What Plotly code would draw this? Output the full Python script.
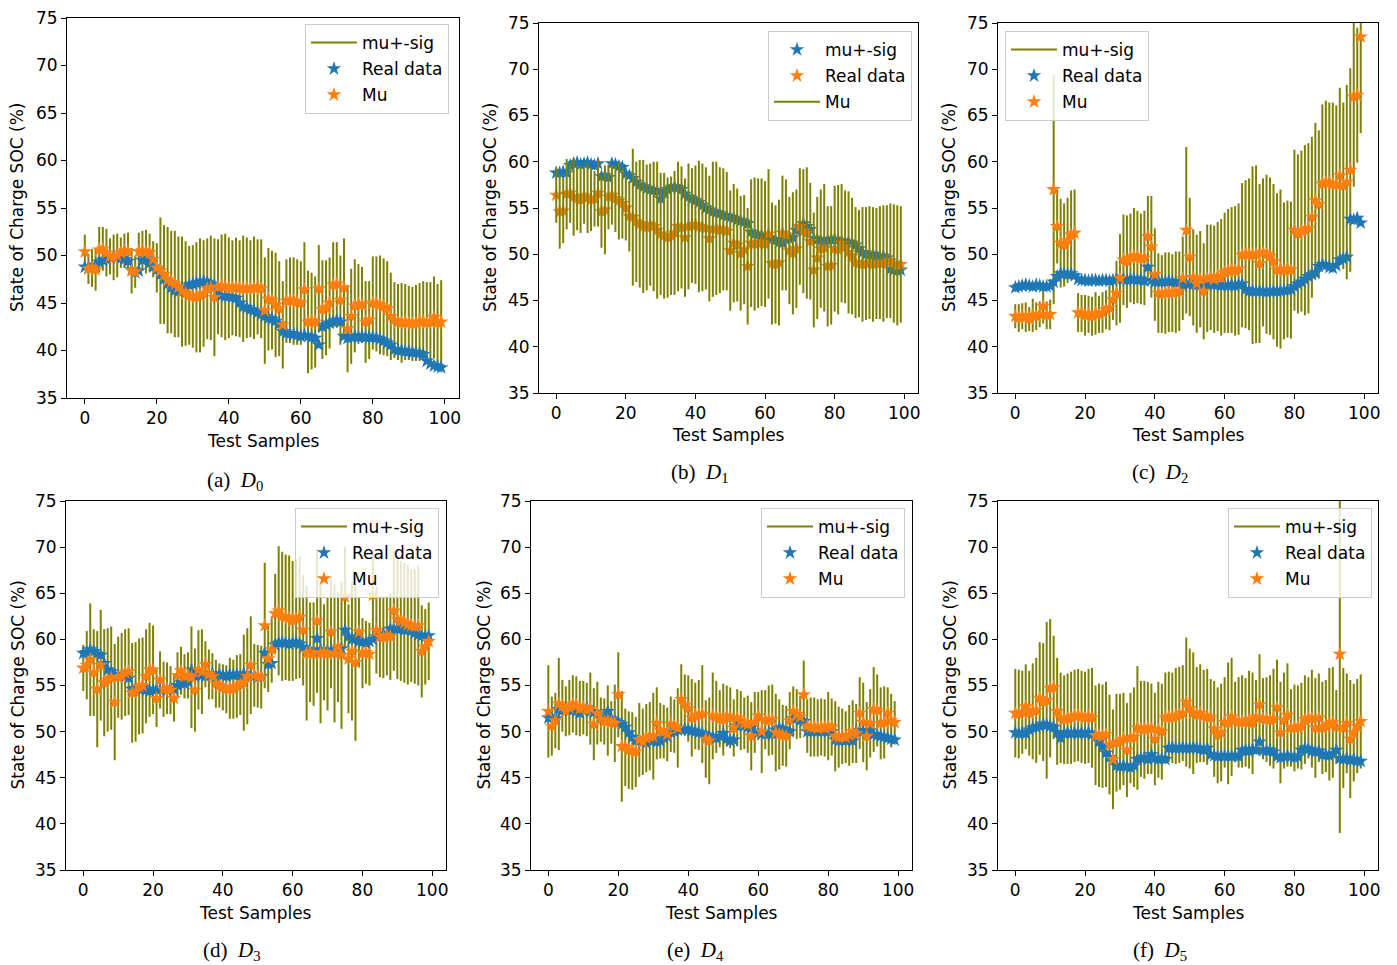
import plotly.graph_objects as go

W, H = 1397, 965

# ---------------- data ----------------
a_real = [48.8, 48.7, 48.8, 49.0, 49.3, 49.5, 49.6, 49.8, 49.9, 49.8,
          49.7, 49.6, 49.4, 48.5, 48.2, 48.4, 49.5, 49.7, 49.2, 48.8,
          48.5, 48.0, 47.5, 47.0, 46.6, 46.3, 46.2, 46.5, 46.7, 46.9,
          47.0, 47.1, 47.2, 47.3, 47.2, 47.0, 46.8, 46.2, 45.8, 45.7,
          45.7, 45.6, 45.5, 45.0, 44.6, 44.5, 44.3, 44.2, 44.0, 43.8,
          43.6, 43.4, 43.3, 43.1, 42.8, 42.0, 41.8, 41.8, 41.7, 41.6,
          41.5, 41.6, 41.5, 41.4, 41.3, 40.6, 42.5, 42.7, 42.9, 43.0,
          43.2, 43.0, 41.5, 41.3, 41.4, 41.5, 41.4, 41.5, 41.4, 41.4,
          41.4, 41.3, 41.2, 41.0, 40.8, 40.6, 40.1, 40.0, 40.0, 39.9,
          39.9, 39.8, 39.8, 39.7, 39.6, 38.9, 38.6, 38.4, 38.3, 38.2]
a_mu = [50.4, 48.6, 48.7, 48.5, 50.6, 50.7, 50.3, 49.9, 49.8, 50.0,
        50.3, 50.5, 50.4, 48.4, 48.3, 50.4, 50.5, 50.4, 50.3, 49.6,
        48.7, 48.4, 48.0, 47.4, 47.2, 47.0, 46.7, 46.2, 46.0, 45.8,
        45.7, 45.6, 45.8, 46.0, 46.5, 46.6, 45.6, 46.7, 46.8, 46.7,
        46.6, 46.6, 46.7, 46.5, 46.5, 46.6, 46.5, 46.6, 46.7, 46.5,
        44.2, 45.4, 45.3, 44.8, 44.4, 42.7, 45.2, 45.3, 45.2, 45.1,
        45.0, 46.4, 43.0, 43.1, 43.0, 46.5, 44.3, 44.5, 45.0, 46.9,
        47.0, 45.3, 46.6, 42.3, 43.6, 44.7, 44.9, 44.8, 43.0, 43.2,
        45.0, 44.9, 44.8, 44.6, 44.4, 43.6, 43.2, 43.0, 42.9, 43.0,
        42.9, 42.8, 42.9, 43.0, 43.1, 42.9, 43.0, 43.5, 42.9, 43.0]
a_sig = [1.8, 1.6, 2.0, 2.2, 2.4, 2.3, 2.5, 1.9, 2.4, 2.3,
         1.6, 1.8, 2.0, 2.4, 1.7, 2.0, 2.1, 2.3, 2.0, 1.9,
         2.6, 5.6, 5.2, 5.6, 5.4, 5.6, 5.3, 5.8, 5.5, 5.2,
         5.4, 5.8, 6.0, 5.6, 5.3, 5.5, 6.2, 5.0, 5.4, 5.6,
         5.3, 5.0, 5.2, 5.1, 5.6, 5.3, 5.1, 5.4, 5.0, 5.2,
         5.6, 5.4, 5.2, 5.5, 5.0, 4.6, 4.4, 4.5, 4.6, 4.5,
         4.4, 5.0, 5.4, 5.1, 4.8, 4.6, 5.2, 5.0, 4.8, 4.5,
         4.4, 4.7, 5.2, 4.6, 5.0, 4.9, 4.2, 4.0, 4.3, 4.1,
         4.9, 5.0, 5.2, 5.1, 5.0, 4.6, 4.0, 4.0, 4.2, 4.0,
         3.9, 3.9, 4.0, 4.1, 4.2, 4.3, 4.2, 4.3, 4.1, 4.4]

b_real = [58.8, 58.8, 58.9, 58.8, 59.6, 59.8, 59.9, 59.7, 59.8, 59.9,
          59.7, 59.6, 59.8, 58.4, 58.5, 58.3, 59.8, 59.7, 59.5, 59.4,
          58.7, 58.5, 58.2, 57.8, 57.5, 57.3, 57.1, 57.0, 56.9, 56.8,
          56.0, 56.7, 57.0, 57.2, 57.3, 57.2, 57.0, 56.5, 56.2, 56.0,
          55.8, 55.6, 55.3, 55.0, 54.8, 54.6, 54.5, 54.4, 54.2, 54.1,
          54.0, 53.9, 53.7, 53.6, 53.5, 53.3, 52.4, 52.2, 52.1, 52.0,
          51.9, 51.8, 51.6, 51.5, 51.3, 51.2, 51.6, 51.7, 51.8, 52.6,
          52.9, 53.3, 53.0, 52.7, 51.7, 51.6, 51.5, 51.4, 51.5, 51.6,
          51.6, 51.5, 51.4, 51.3, 51.3, 51.2, 51.0, 50.6, 50.2, 50.0,
          49.9, 50.0, 49.8, 49.7, 49.8, 49.6, 48.4, 48.3, 48.2, 48.3]
b_mu = [56.4, 54.6, 54.7, 56.5, 56.6, 56.2, 56.0, 55.9, 56.3, 56.1,
        55.9, 56.0, 56.6, 54.6, 54.8, 56.2, 56.4, 56.0, 55.8, 55.5,
        55.0, 54.1, 54.0, 53.5, 53.3, 53.0, 52.9, 53.2, 53.0, 52.6,
        52.2, 52.0, 51.8, 52.0, 52.3, 53.0, 52.9, 51.8, 53.0, 53.1,
        53.2, 53.0, 52.9, 52.8, 51.7, 52.7, 52.8, 52.6, 52.7, 52.5,
        50.4, 51.2, 51.0, 50.1, 50.5, 48.7, 51.2, 51.1, 51.2, 51.3,
        51.1, 52.2, 49.0, 48.9, 49.1, 52.3, 52.1, 50.4, 50.1, 50.6,
        53.0, 52.5, 52.3, 51.4, 48.3, 49.6, 50.6, 50.7, 48.7, 48.8,
        50.6, 50.5, 51.2, 50.8, 50.2, 49.8, 49.1, 49.0, 48.9, 49.0,
        49.1, 48.9, 49.0, 49.1, 49.0, 49.2, 49.3, 49.0, 48.8, 48.9]
b_sig = [3.0, 4.0, 3.5, 3.8, 3.2, 4.2, 3.4, 3.6, 3.0, 3.8,
         3.4, 3.0, 3.6, 3.9, 4.8, 3.5, 3.2, 3.6, 4.2, 3.8,
         3.5, 3.8, 7.4, 6.5, 6.9, 7.2, 6.8, 6.6, 7.0, 7.4,
         6.6, 6.8, 6.5, 6.4, 6.7, 7.0, 6.6, 6.4, 6.8, 6.2,
         6.4, 7.1, 6.9, 6.6, 6.8, 7.3, 7.2, 6.8, 6.6, 6.4,
         6.5, 6.4, 6.1, 6.2, 5.9, 6.3, 6.9, 7.2, 7.0, 6.9,
         6.8, 7.0, 6.6, 6.4, 6.8, 6.2, 6.0, 5.8, 6.6, 6.4,
         6.3, 6.7, 7.1, 6.3, 6.2, 6.6, 6.4, 6.9, 6.5, 6.4,
         6.8, 7.0, 6.4, 6.1, 6.6, 6.3, 6.0, 5.8, 6.2, 6.1,
         6.1, 6.2, 6.0, 6.1, 6.3, 6.1, 6.2, 6.4, 6.5, 6.3]

c_real = [46.4, 46.5, 46.6, 46.7, 46.6, 46.5, 46.7, 46.6, 46.5, 46.5,
          46.6, 47.0, 47.6, 47.9, 47.9, 47.8, 47.9, 47.7, 47.3, 47.2,
          47.2, 47.1, 47.2, 47.2, 47.1, 47.2, 47.2, 47.1, 47.2, 47.3,
          47.4, 47.3, 47.2, 47.3, 47.3, 47.2, 47.3, 47.1, 48.6, 47.2,
          47.0, 47.1, 47.0, 47.0, 47.1, 47.0, 46.9, 47.0, 46.6, 46.8,
          46.8, 46.7, 46.7, 46.8, 46.7, 46.7, 46.8, 46.7, 46.7, 46.6,
          46.7, 46.6, 46.7, 46.6, 46.7, 46.8, 46.2, 46.0, 46.0, 46.0,
          46.0, 46.0, 45.9, 46.0, 46.0, 46.0, 46.0, 46.1, 46.1, 46.2,
          46.5, 46.8, 47.0, 47.3, 47.6, 47.8, 48.0, 48.7, 48.9, 48.8,
          48.6, 48.5, 48.8, 49.4, 49.5, 49.7, 53.8, 53.7, 53.9, 53.4]
c_mu = [43.3, 43.1, 43.3, 43.2, 43.0, 43.4, 43.3, 43.5, 44.4, 43.4,
        43.5, 57.0, 53.0, 51.2, 51.0, 51.5, 52.1, 52.3, 43.7, 43.6,
        43.4, 43.5, 43.3, 43.6, 43.5, 43.7, 44.0, 44.2, 45.1, 45.8,
        47.4, 49.4, 49.2, 49.6, 49.8, 49.7, 49.5, 49.6, 51.9, 50.8,
        47.8, 45.8, 45.7, 45.8, 45.9, 45.8, 45.9, 46.0, 47.4, 52.6,
        49.7, 47.5, 46.8, 47.3, 46.0, 47.4, 47.5, 47.3, 47.6, 47.5,
        48.0, 48.2, 48.3, 48.2, 48.4, 49.9, 50.0, 50.0, 49.9, 50.0,
        49.0, 50.2, 50.0, 49.8, 49.2, 48.3, 48.4, 48.2, 48.4, 48.3,
        52.6, 52.2, 52.5, 52.6, 52.8, 54.0, 55.8, 55.4, 57.6, 57.8,
        57.7, 57.6, 57.5, 58.5, 57.4, 57.8, 59.1, 67.0, 67.2, 73.5]
c_sig = [1.3, 1.5, 1.4, 1.6, 1.3, 1.8, 1.5, 1.4, 1.9, 1.5,
         1.6, 12.4, 4.0, 4.8, 4.5, 4.6, 4.8, 4.7, 2.1, 2.0,
         2.2, 2.0, 2.1, 2.3, 2.0, 2.2, 2.1, 2.4, 2.2, 3.5,
         4.8, 4.9, 5.0, 4.8, 5.2, 5.0, 4.9, 5.1, 4.4, 5.5,
         5.0, 4.3, 4.2, 4.4, 4.3, 4.2, 4.4, 4.3, 4.5, 9.0,
         6.4, 5.2, 5.3, 5.2, 5.2, 5.8, 5.7, 5.8, 5.9, 6.3,
         6.5, 6.7, 6.8, 7.0, 7.1, 7.8, 8.0, 8.2, 9.6, 9.6,
         8.6, 8.0, 8.6, 8.5, 8.4, 8.3, 8.6, 7.4, 7.4, 7.4,
         8.7, 8.6, 8.7, 9.2, 9.2, 8.7, 8.4, 8.0, 8.6, 8.8,
         8.7, 8.8, 8.6, 9.5, 9.0, 10.5, 11.0, 9.7, 7.3, 10.4]

d_real = [58.5, 58.6, 58.9, 58.7, 58.4, 58.3, 57.4, 56.7, 56.5, 56.2,
          56.0, 56.1, 56.0, 55.8, 54.6, 54.7, 54.6, 54.8, 54.5, 54.4,
          54.5, 54.6, 54.5, 54.6, 54.5, 54.7, 54.6, 55.0, 55.3, 55.2,
          55.4, 56.7, 56.0, 56.2, 56.1, 56.0, 56.2, 56.3, 55.9, 56.2,
          56.1, 56.0, 56.2, 56.1, 56.2, 56.0, 56.3, 56.1, 56.0, 56.1,
          55.9, 56.0, 58.5, 57.3, 57.4, 59.4, 59.6, 59.7, 59.6, 59.5,
          59.6, 59.7, 59.5, 59.1, 58.9, 58.8, 58.7, 60.1, 58.9, 58.8,
          58.7, 58.8, 58.7, 58.9, 59.0, 61.0, 60.3, 60.0, 60.1, 59.8,
          59.7, 59.6, 59.8, 60.0, 60.3, 60.4, 60.6, 60.5, 61.1, 61.2,
          61.1, 61.2, 61.0, 61.1, 60.9, 60.7, 60.5, 60.4, 60.3, 60.4]
d_mu = [56.9, 57.2, 57.8, 56.4, 54.6, 57.2, 55.3, 55.6, 55.8, 53.2,
        55.9, 56.0, 56.4, 56.5, 54.2, 54.3, 54.9, 55.0, 56.0, 56.7,
        56.7, 53.6, 55.6, 54.6, 54.7, 54.5, 53.6, 56.1, 56.6, 56.0,
        56.1, 55.9, 54.5, 56.7, 56.5, 57.3, 56.2, 56.0, 55.2, 55.0,
        54.8, 54.6, 54.7, 54.6, 54.9, 55.1, 55.3, 56.0, 57.2, 56.1,
        56.0, 55.9, 61.5, 57.9, 58.9, 62.8, 63.1, 62.5, 62.4, 62.3,
        62.0, 62.2, 62.4, 61.0, 58.5, 58.6, 58.4, 62.0, 58.5, 58.6,
        58.4, 60.8, 58.5, 59.2, 58.3, 64.6, 57.9, 58.7, 57.5, 60.8,
        58.5, 58.6, 58.4, 64.8, 61.0, 60.3, 60.2, 60.4, 60.3, 63.1,
        62.2, 62.0, 61.8, 61.6, 61.5, 61.4, 61.5, 58.7, 59.2, 59.8]
d_sig = [2.5, 3.7, 6.1, 4.7, 6.3, 6.0, 5.8, 5.6, 5.6, 6.3,
         4.4, 4.7, 4.7, 4.7, 5.4, 5.4, 5.2, 5.2, 5.1, 5.1,
         4.8, 3.1, 3.1, 3.0, 2.8, 2.6, 2.5, 2.5, 2.6, 2.4,
         2.5, 5.5, 4.5, 4.3, 4.6, 2.5, 2.7, 2.5, 2.6, 2.4,
         2.5, 2.6, 3.3, 3.2, 3.4, 3.3, 5.2, 5.2, 5.3, 3.4,
         3.4, 3.4, 6.8, 3.6, 3.6, 4.3, 7.0, 7.0, 6.8, 6.8,
         6.5, 6.5, 6.6, 6.0, 7.3, 5.4, 5.6, 7.8, 7.6, 5.2,
         6.1, 6.1, 7.5, 6.0, 8.0, 5.4, 5.9, 7.5, 8.5, 3.8,
         3.8, 3.4, 3.4, 4.7, 4.7, 4.4, 4.4, 4.3, 4.7, 6.5,
         6.5, 6.5, 6.5, 6.5, 6.1, 6.2, 6.5, 5.0, 4.1, 4.2]

e_real = [51.5, 51.6, 51.4, 52.4, 52.3, 52.5, 52.4, 52.3, 52.2, 52.0,
          52.3, 52.6, 52.2, 52.1, 51.9, 51.5, 51.6, 52.2, 51.4, 51.2,
          51.0, 50.8, 50.5, 49.9, 49.4, 49.0, 49.1, 48.9, 48.8, 49.0,
          49.1, 48.9, 49.0, 49.3, 49.5, 49.9, 50.0, 50.2, 50.2, 50.3,
          50.2, 50.1, 50.0, 49.9, 49.8, 49.6, 49.5, 49.4, 49.3, 49.5,
          49.8, 49.2, 49.0, 49.1, 50.6, 50.8, 50.6, 50.5, 50.4, 50.0,
          49.9, 49.8, 49.7, 49.8, 49.7, 50.2, 50.4, 50.3, 50.1, 50.0,
          51.4, 51.5, 51.2, 51.1, 50.0, 50.0, 50.1, 50.0, 50.0, 50.1,
          50.0, 50.0, 49.1, 49.0, 49.1, 49.0, 49.2, 49.0, 50.0, 50.1,
          50.0, 50.0, 50.1, 49.7, 49.6, 49.5, 49.4, 49.3, 49.2, 49.1]
e_mu = [52.2, 50.6, 51.2, 53.0, 52.8, 52.2, 52.6, 53.0, 52.8, 52.5,
        52.6, 52.4, 52.5, 50.8, 52.0, 51.3, 51.1, 51.2, 51.0, 50.9,
        54.0, 48.4, 48.3, 48.0, 47.9, 47.8, 49.1, 48.9, 49.3, 49.5,
        49.5, 50.9, 50.1, 50.0, 49.7, 50.8, 50.6, 50.4, 53.5, 52.9,
        52.5, 51.5, 51.7, 51.8, 51.9, 49.2, 49.0, 51.7, 51.6, 51.4,
        51.3, 51.7, 51.5, 50.4, 51.5, 51.2, 50.9, 50.8, 49.5, 51.0,
        51.7, 50.0, 51.3, 51.2, 51.3, 49.9, 49.7, 49.6, 49.5, 51.2,
        52.2, 51.9, 51.6, 54.0, 50.6, 50.5, 50.5, 50.4, 50.5, 50.4,
        50.6, 50.5, 49.5, 49.4, 49.5, 49.4, 49.6, 50.0, 49.8, 52.0,
        51.0, 49.5, 50.9, 52.4, 52.3, 50.9, 51.0, 52.0, 51.2, 51.0]
e_sig = [5.0, 3.2, 3.0, 5.0, 2.8, 2.7, 3.0, 3.1, 3.2, 3.0,
         2.9, 2.9, 3.9, 3.9, 3.4, 2.4, 2.5, 3.8, 2.3, 4.2,
         4.6, 6.0, 4.2, 4.2, 4.2, 3.8, 4.0, 3.6, 3.7, 3.7,
         4.7, 3.9, 3.0, 2.9, 2.9, 3.0, 2.9, 4.3, 3.8, 3.3,
         3.6, 4.2, 3.6, 3.8, 5.3, 4.2, 4.7, 4.7, 3.9, 3.1,
         3.9, 3.3, 3.3, 3.1, 3.1, 3.2, 2.8, 3.1, 3.7, 3.3,
         2.6, 4.5, 3.2, 3.8, 3.8, 4.2, 3.8, 3.3, 3.3, 3.1,
         2.7, 2.7, 2.3, 3.7, 2.9, 3.2, 3.2, 3.1, 3.1, 3.1,
         3.7, 3.1, 3.8, 3.3, 3.0, 2.8, 3.3, 3.4, 3.2, 3.9,
         4.3, 3.7, 3.7, 4.6, 3.9, 3.9, 3.9, 2.8, 2.9, 2.3]

f_real = [49.9, 49.8, 49.9, 49.8, 50.2, 50.4, 50.5, 50.6, 50.8, 50.7,
          50.6, 50.5, 49.9, 49.3, 49.8, 49.9, 49.8, 49.9, 49.8, 49.9,
          49.8, 49.9, 49.7, 49.5, 48.9, 48.4, 47.7, 47.2, 47.0, 46.3,
          46.2, 46.3, 46.2, 46.1, 46.3, 47.0, 47.1, 47.2, 47.0, 47.5,
          47.1, 47.0, 47.1, 47.0, 48.2, 48.3, 48.2, 48.2, 48.3, 48.2,
          48.2, 48.3, 48.2, 48.1, 48.0, 48.2, 47.5, 47.4, 47.3, 47.4,
          47.3, 47.4, 47.3, 47.4, 47.3, 48.0, 48.0, 47.9, 48.1, 48.0,
          48.9, 48.0, 47.9, 48.0, 47.8, 47.3, 47.2, 47.3, 47.4, 47.3,
          47.2, 47.3, 48.0, 48.2, 48.1, 47.9, 47.8, 47.9, 47.5, 47.5,
          47.4, 47.6, 48.0, 47.1, 47.0, 47.1, 46.9, 47.0, 46.8, 46.8]
f_mu = [52.0, 51.9, 52.1, 52.7, 52.0, 52.2, 52.3, 53.6, 53.2, 53.4,
        54.7, 54.8, 52.2, 51.5, 51.3, 51.4, 51.5, 51.7, 51.8, 51.6,
        51.5, 51.7, 51.5, 49.6, 49.6, 49.5, 49.7, 48.6, 47.0, 48.8,
        48.9, 49.2, 48.0, 49.3, 49.4, 50.4, 50.3, 50.2, 50.4, 50.3,
        49.2, 50.2, 50.0, 51.5, 51.6, 51.5, 51.7, 51.8, 52.0, 53.2,
        52.5, 52.0, 51.8, 52.0, 51.7, 51.6, 51.5, 50.3, 49.6, 49.9,
        51.0, 50.9, 51.6, 51.2, 51.0, 51.1, 51.0, 51.3, 50.9, 51.6,
        52.9, 51.4, 51.3, 51.2, 51.4, 52.6, 49.9, 51.2, 51.8, 50.4,
        50.4, 50.5, 50.6, 51.3, 51.5, 51.4, 50.4, 51.5, 50.4, 50.6,
        50.8, 51.0, 50.5, 58.4, 50.4, 50.9, 49.2, 49.9, 50.6, 51.1]
f_sig = [4.8, 4.8, 4.5, 4.6, 4.6, 5.2, 5.7, 6.1, 6.4, 8.5,
         7.5, 5.6, 5.8, 4.9, 4.8, 4.9, 5.0, 5.0, 5.0, 5.0,
         5.0, 5.1, 5.4, 5.4, 5.6, 5.6, 5.7, 5.4, 5.4, 5.3,
         5.2, 5.0, 5.1, 4.9, 5.4, 6.7, 5.2, 5.3, 5.0, 4.9,
         5.0, 5.2, 5.2, 4.9, 4.9, 4.9, 5.2, 5.2, 5.2, 7.0,
         6.5, 6.6, 5.2, 5.3, 5.0, 5.2, 4.2, 5.2, 5.2, 5.3,
         4.9, 6.6, 6.4, 4.2, 4.9, 5.0, 4.8, 5.3, 5.5, 4.0,
         5.5, 4.4, 4.6, 4.9, 5.4, 5.2, 5.5, 5.2, 5.6, 4.2,
         4.7, 4.5, 4.7, 4.8, 4.4, 5.3, 5.4, 4.8, 5.0, 5.0,
         6.1, 6.0, 4.0, 19.4, 6.5, 5.4, 6.4, 5.3, 5.1, 5.1]

x_ticks = [0, 20, 40, 60, 80, 100]
y_ticks = [35, 40, 45, 50, 55, 60, 65, 70, 75]
caption_letters = ["a", "b", "c", "d", "e", "f"]

# ---------------- layout geometry (pixels of the reference) ----------------
panels = [
    dict(real=a_real, mu=a_mu, sig=a_sig, box=(67, 459, 15, 395), leg=(305, 21),
         ytitle_x=17, xtitle_y=438, cap=(235, 478), lines_on_top=False),
    dict(real=b_real, mu=b_mu, sig=b_sig, box=(539, 918, 20, 390), leg=(768, 28),
         ytitle_x=490, xtitle_y=432, cap=(700, 470), lines_on_top=True),
    dict(real=c_real, mu=c_mu, sig=c_sig, box=(998, 1378, 20, 390), leg=(1005, 28),
         ytitle_x=949, xtitle_y=432, cap=(1160, 470), lines_on_top=False),
    dict(real=d_real, mu=d_mu, sig=d_sig, box=(66, 446, 498, 867), leg=(295, 505),
         ytitle_x=17, xtitle_y=910, cap=(232, 948), lines_on_top=False),
    dict(real=e_real, mu=e_mu, sig=e_sig, box=(531, 912, 498, 867), leg=(761, 505),
         ytitle_x=483, xtitle_y=910, cap=(695, 948), lines_on_top=False),
    dict(real=f_real, mu=f_mu, sig=f_sig, box=(998, 1378, 498, 867), leg=(1228, 505),
         ytitle_x=949, xtitle_y=910, cap=(1160, 948), lines_on_top=False),
]

FONT = "DejaVu Sans"
FS = 17
OLIVE = "#808000"
BLUE = "#1f77b4"
ORANGE = "#ff7f0e"
OFF_X = 8  # page body margin of the browser
OFF_Y = 5  # slightly less vertically so the top tick label is not clipped

fig = go.Figure()
layout = dict(width=W, height=H, margin=dict(l=0, r=0, t=0, b=0, autoexpand=False),
              autosize=False, paper_bgcolor="white", plot_bgcolor="white",
              font=dict(family=FONT, size=FS, color="black"), annotations=[])


def px_x(p):
    return (p - OFF_X) / W


def px_y(p):
    return 1 - (p - OFF_Y) / H


for k, p in enumerate(panels):
    n = k + 1
    xa = "x" if n == 1 else f"x{n}"
    ya = "y" if n == 1 else f"y{n}"
    lg = "legend" if n == 1 else f"legend{n}"
    xs = list(range(len(p["mu"])))

    vx, vy = [], []
    for i, (m, s) in enumerate(zip(p["mu"], p["sig"])):
        vx += [i, i, None]
        vy += [m - s, m + s, None]

    band = go.Scatter(x=vx, y=vy, mode="lines", line=dict(color=OLIVE, width=2),
                      xaxis=xa, yaxis=ya, legend=lg, hoverinfo="skip")
    real = go.Scatter(x=xs, y=p["real"], mode="markers",
                      marker=dict(symbol="star", size=11, color=BLUE, line=dict(width=0)),
                      xaxis=xa, yaxis=ya, legend=lg)
    mu = go.Scatter(x=xs, y=p["mu"], mode="markers",
                    marker=dict(symbol="star", size=11, color=ORANGE, line=dict(width=0)),
                    xaxis=xa, yaxis=ya, legend=lg)
    if p["lines_on_top"]:
        real.name, mu.name, band.name = "mu+-sig", "Real data", "Mu"
        order = [real, mu, band]
    else:
        band.name, real.name, mu.name = "mu+-sig", "Real data", "Mu"
        order = [band, real, mu]
    for j, t in enumerate(order):
        t.legendgroup = f"{lg}_g{j}"
        fig.add_trace(t)

    x0, x1, y0, y1 = p["box"]
    axis_common = dict(showline=True, mirror=True, linecolor="black", linewidth=1,
                       ticks="outside", ticklen=5, tickwidth=1, tickcolor="black",
                       showgrid=False, zeroline=False, ticklabeloverflow="allow",
                       tickfont=dict(family=FONT, size=FS, color="black"))
    layout["xaxis" if n == 1 else f"xaxis{n}"] = dict(
        domain=[px_x(x0), px_x(x1)], range=[-4.95, 103.95], tickvals=x_ticks,
        anchor=ya, **axis_common)
    layout["yaxis" if n == 1 else f"yaxis{n}"] = dict(
        domain=[px_y(y1), px_y(y0)], range=[35, 75], tickvals=y_ticks,
        anchor=xa, **axis_common)
    lx, ly = p["leg"]
    layout[lg] = dict(x=px_x(lx), y=px_y(ly), xanchor="left", yanchor="top",
                      bgcolor="rgba(255,255,255,0.8)", bordercolor="#cccccc",
                      borderwidth=1, font=dict(family=FONT, size=FS, color="black"),
                      traceorder="grouped", tracegroupgap=1, itemwidth=46)

    layout["annotations"].append(dict(
        text="State of Charge SOC (%)", textangle=-90, xref="paper", yref="paper",
        x=px_x(p["ytitle_x"]), y=px_y((y0 + y1) / 2), xanchor="center", yanchor="middle",
        showarrow=False, font=dict(family=FONT, size=FS, color="black")))
    layout["annotations"].append(dict(
        text="Test Samples", xref="paper", yref="paper",
        x=px_x((x0 + x1) / 2), y=px_y(p["xtitle_y"]), xanchor="center", yanchor="middle",
        showarrow=False, font=dict(family=FONT, size=FS, color="black")))
    cx, cy = p["cap"]
    layout["annotations"].append(dict(
        text=f"({caption_letters[k]})  <i>D</i><sub>{k}</sub>", xref="paper", yref="paper",
        x=px_x(cx), y=px_y(cy), xanchor="center", yanchor="middle", showarrow=False,
        font=dict(family="Liberation Serif", size=21, color="black")))

fig.update_layout(**layout)
fig.write_html("out.html")
